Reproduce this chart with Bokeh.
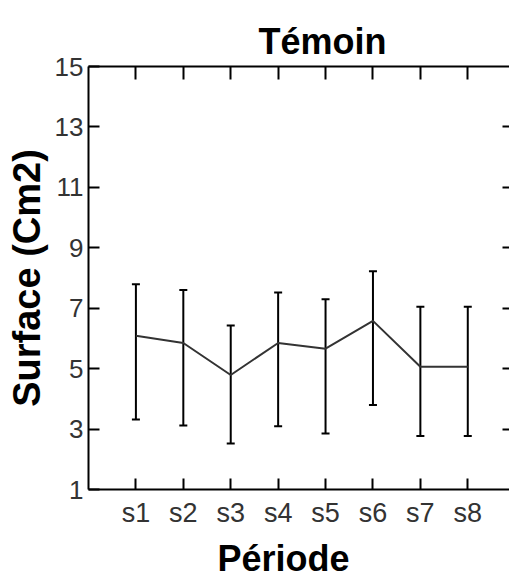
from bokeh.plotting import figure
from bokeh.models import (ColumnDataSource, Range1d, FixedTicker, LinearAxis,
                          Whisker, TeeHead, Title)
from bokeh.embed import file_html
from bokeh.resources import INLINE

# Surface measured per period (mean with lower / upper bounds)
periods = ["s1", "s2", "s3", "s4", "s5", "s6", "s7", "s8"]
positions = [1, 2, 3, 4, 5, 6, 7, 8]
means = [6.09, 5.85, 4.79, 5.85, 5.66, 6.58, 5.06, 5.06]
upper = [7.79, 7.60, 6.43, 7.52, 7.30, 8.22, 7.05, 7.05]
lower = [3.32, 3.12, 2.52, 3.09, 2.85, 3.80, 2.77, 2.77]
y_ticks = [1, 3, 5, 7, 9, 11, 13, 15]

FONT = "Liberation Sans"

src = ColumnDataSource(dict(pos=positions, mean=means, upper=upper, lower=lower))

p = figure(width=509, height=583, output_backend="svg", toolbar_location=None,
           x_range=Range1d(0, 8.88), y_range=Range1d(1, 15),
           x_axis_type=None, y_axis_type=None,
           min_border_left=88, min_border_right=0,
           min_border_top=66, min_border_bottom=90)
p.outline_line_color = None
p.background_fill_color = "white"
p.border_fill_color = "white"

p.title.text = "Témoin"
p.title.align = "left"
p.title.offset = 170
p.title.text_font = FONT
p.title.text_font_size = "36px"
p.title.text_font_style = "bold"
p.title.text_color = "black"

common = dict(axis_line_width=2, axis_line_color="black",
              major_tick_line_width=2, major_tick_line_color="black",
              major_tick_out=0, minor_tick_line_color=None)

left = LinearAxis(ticker=FixedTicker(ticks=y_ticks), major_tick_in=11,
                  major_label_standoff=5, major_label_text_font=FONT,
                  major_label_text_font_size="26px", major_label_text_color="#333",
                  axis_label="Surface (Cm2)", axis_label_text_font=FONT,
                  axis_label_text_font_size="38px", axis_label_text_font_style="bold",
                  axis_label_text_color="black", axis_label_standoff=4, **common)
p.add_layout(left, "left")

bottom = LinearAxis(ticker=FixedTicker(ticks=positions), major_tick_in=11,
                    major_label_overrides={k: v for k, v in zip(positions, periods)},
                    major_label_standoff=8, major_label_text_font=FONT,
                    major_label_text_font_size="27px", major_label_text_color="#333",
                    **common)
p.add_layout(bottom, "below")

top = LinearAxis(ticker=FixedTicker(ticks=positions), major_tick_in=13,
                 major_label_text_font_size="0px", major_label_text_color=None,
                 major_label_standoff=0, **common)
p.add_layout(top, "above")

right = LinearAxis(ticker=FixedTicker(ticks=y_ticks[1:-1]), major_tick_in=7,
                   major_label_text_font_size="0px", major_label_text_color=None,
                   major_label_standoff=0, **common)
right.axis_line_color = None
p.add_layout(right, "right")

p.add_layout(Title(text="Période", align="left", offset=129, text_font=FONT,
                   text_font_size="36px", text_font_style="bold",
                   text_color="black"), "below")

p.line(x="pos", y="mean", source=src, line_color="#333", line_width=2)

whisk = Whisker(base="pos", upper="upper", lower="lower", source=src,
                line_color="black", line_width=2,
                upper_head=TeeHead(size=8, line_width=2, line_color="black"),
                lower_head=TeeHead(size=8, line_width=2, line_color="black"))
p.add_layout(whisk)

open("out.html", "w").write(file_html(p, INLINE))
